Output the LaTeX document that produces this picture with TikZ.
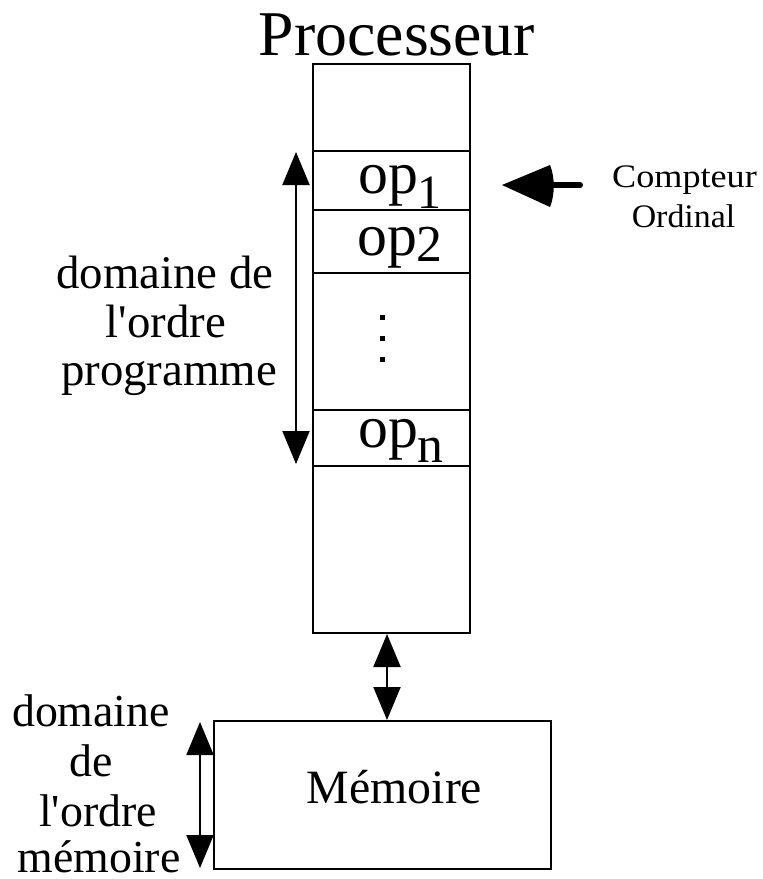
\documentclass[tikz,border=0pt]{standalone}
\usepackage{fontspec}
\setmainfont{Liberation Serif}[Ligatures=TeXOff]
\usetikzlibrary{arrows.meta}
\newcommand{\fsz}[1]{\fontsize{#1}{#1}\selectfont}
\begin{document}
\begin{tikzpicture}[x=1bp,y=-1bp,line width=2bp,
  frame/.style={draw,rectangle,inner sep=0pt,line width=2bp},
  lbl/.style={anchor=base,inner sep=0pt},
  dbl/.style={{Triangle[length=33bp,width=27bp]}-{Triangle[length=33bp,width=27bp]}},
  dot/.style={fill,minimum size=5bp,inner sep=0pt,rectangle}]
\useasboundingbox (0,0) rectangle (763,879);

% processor column and its instruction slots
\node[frame,minimum width=157bp,minimum height=569bp] (proc) at (391.5,348.5) {};
\node[frame,minimum width=157bp,minimum height=59bp] (r1) at (391.5,180.5) {};
\node[frame,minimum width=157bp,minimum height=63bp] (r2) at (391.5,241.5) {};
\node[frame,minimum width=157bp,minimum height=56bp] (rn) at (391.5,438) {};

\node[lbl] (title) at (397,55) {\fsz{64}Processeur};
\node[lbl] (op1) at (400,193) {\fsz{60}op\raisebox{-15bp}{\fsz{48}1}};
\node[lbl] (op2) at (400,255) {\fsz{60}op\raisebox{-6bp}{\fsz{52}2}};
\node[lbl] (opn) at (401,447) {\fsz{60}op\raisebox{-15bp}{\fsz{52}n}};

% vertical ellipsis between the slots
\node[dot] (d1) at (382,317) {};
\node[dot] (d2) at (382,338) {};
\node[dot] (d3) at (382,359) {};

% memory
\node[frame,minimum width=337bp,minimum height=148bp] (mem) at (382.5,795) {};
\node[lbl] (memtxt) at (394.5,803) {\fsz{48}Mémoire};

% program order span
\coordinate (pt) at (296,152);
\coordinate (pb) at (296,464);
\draw[dbl] (pt) -- (pb);
\node[lbl] (po1) at (165,288) {\fsz{47}domaine de};
\node[lbl] (po2) at (166,337) {\fsz{47}l'ordre};
\node[lbl] (po3) at (169,385) {\fsz{47}programme};

% processor <-> memory
\coordinate (bt) at (387,634);
\coordinate (bb) at (387,720);
\draw[dbl] (bt) -- (bb);

% memory order span
\coordinate (mt) at (200,722);
\coordinate (mb) at (200,868);
\draw[dbl] (mt) -- (mb);
\node[lbl] (mo1) at (91,726) {\fsz{46}domaine};
\node[lbl] (mo2) at (91,776) {\fsz{46}de};
\node[lbl] (mo3) at (98,826) {\fsz{46}l'ordre};
\node[lbl] (mo4) at (99,872) {\fsz{46}mémoire};

% program counter
\coordinate (ctip) at (502,185);
\coordinate (ctail) at (580,185);
\draw[line width=6bp,line cap=round] (ctail) -- ([xshift=46bp]ctip);
\fill (ctip) -- ++(48,-20) .. controls ++(5,12) and ++(5,-12) .. ++(0,42) -- cycle;
\node[lbl] (cp1) at (684.5,187) {\fsz{33}\scalebox{1.1}[1]{Compteur}};
\node[lbl] (cp2) at (683.5,227) {\fsz{33}\scalebox{1.03}[1]{Ordinal}};
\end{tikzpicture}
\end{document}
